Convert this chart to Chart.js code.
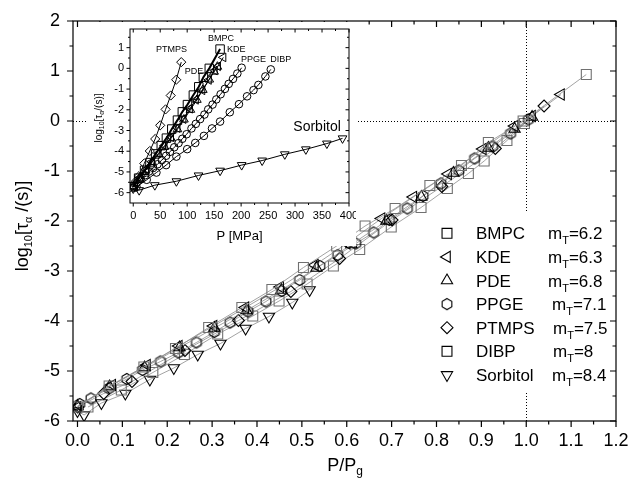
<!DOCTYPE html>
<html>
<head>
<meta charset="utf-8">
<script src="https://cdn.jsdelivr.net/npm/chart.js@4/dist/chart.umd.min.js"></script>
<style>
  html, body { margin: 0; padding: 0; background: #fff; }
  #wrap { position: relative; width: 630px; height: 484px; }
  #main { position: absolute; left: 0; top: 0; }
  #inset { position: absolute; left: 88px; top: 22px; background: #fff; }
</style>
</head>
<body>
<div id="wrap">
  <canvas id="main" width="630" height="484"></canvas>
  <canvas id="inset" width="268" height="224"></canvas>
</div>
<script>
// ---- data -------------------------------------------------------------
const seriesNames    = ['BMPC', 'KDE', 'PDE', 'PPGE', 'PTMPS', 'DIBP', 'Sorbitol'];
const fragilityIndex = ['6.2', '6.3', '6.8', '7.1', '7.5', '8', '8.4'];
// pressure (MPa) at which log10(tau) reaches 0 for each liquid
const glassPressure  = [142, 155, 154, 200, 85.6, 256, 750];

const pressureBMPC = [0, 10, 21, 31, 41.5, 52, 61.5, 71.5, 82, 91, 100.5, 111.5, 121.5, 130, 141, 161];
const logTauBMPC   = [-5.72, -5.3, -4.92, -4.55, -4.13, -3.73, -3.37, -2.93, -2.5, -2.1, -1.75, -1.29, -0.89, -0.43, 0.0, 0.93];

const pressureKDE = [0, 12, 24, 35, 47, 58, 70, 82, 93, 105, 116, 128, 140, 151, 157, 167];
const logTauKDE   = [-5.72, -5.28, -4.88, -4.5, -4.1, -3.73, -3.32, -2.88, -2.45, -1.95, -1.52, -1.06, -0.56, -0.1, 0.1, 0.53];

const pressurePDE = [0, 11, 23, 35, 47, 58, 70, 82, 94, 106, 118, 129, 141, 150, 156];
const logTauPDE   = [-5.7, -5.31, -4.93, -4.53, -4.14, -3.79, -3.38, -2.94, -2.47, -2.0, -1.52, -1.04, -0.54, -0.16, 0.08];

const pressurePPGE = [1, 6, 14, 22, 29, 37, 45, 53, 61, 68, 76, 84, 91, 99, 108, 116, 124, 132, 139, 147, 154, 162, 170, 177, 185, 193, 201];
const logTauPPGE   = [-5.66, -5.55, -5.35, -5.16, -4.98, -4.81, -4.63, -4.43, -4.22, -4.03, -3.81, -3.61, -3.4, -3.18, -2.9, -2.68, -2.45, -2.23, -1.98, -1.75, -1.5, -1.25, -0.99, -0.75, -0.51, -0.25, 0.03];

const pressurePTMPS = [0, 5, 10.4, 20.5, 30.7, 40.7, 50, 60, 69.5, 79.7, 89];
const logTauPTMPS   = [-5.72, -5.45, -5.21, -4.59, -3.99, -3.41, -2.75, -1.98, -1.31, -0.55, 0.3];

const pressureDIBP = [6, 25, 43, 61, 80, 100, 115, 131, 146, 161, 179, 196, 211, 223, 232, 245, 255];
const logTauDIBP   = [-5.72, -5.38, -5.03, -4.67, -4.26, -3.9, -3.6, -3.26, -2.9, -2.57, -2.12, -1.73, -1.35, -1.05, -0.8, -0.39, -0.05];

const pressureSorbitol = [0, 11, 40, 80, 121, 161, 201, 239, 281, 320, 359, 388];
const logTauSorbitol   = [-5.8, -5.88, -5.64, -5.45, -5.17, -4.94, -4.67, -4.45, -4.15, -3.91, -3.63, -3.38];

const mainXTicks  = [0.0, 0.1, 0.2, 0.3, 0.4, 0.5, 0.6, 0.7, 0.8, 0.9, 1.0, 1.1, 1.2];
const mainYTicks  = [-6, -5, -4, -3, -2, -1, 0, 1, 2];
const insetXTicks = [0, 50, 100, 150, 200, 250, 300, 350, 400];
const insetYTicks = [-6, -5, -4, -3, -2, -1, 0, 1];

const pressures = [pressureBMPC, pressureKDE, pressurePDE, pressurePPGE, pressurePTMPS, pressureDIBP, pressureSorbitol];
const logTaus   = [logTauBMPC, logTauKDE, logTauPDE, logTauPPGE, logTauPTMPS, logTauDIBP, logTauSorbitol];

// ---- styling ----------------------------------------------------------
const FONT = '"Liberation Sans", Arial, Helvetica, sans-serif';

function hexagonImage(r, color, lw) {
  const c = document.createElement('canvas');
  const s = Math.ceil(2 * r + 2 * lw + 2);
  c.width = s; c.height = s;
  const g = c.getContext('2d');
  g.strokeStyle = color; g.lineWidth = lw;
  g.beginPath();
  for (let i = 0; i < 6; i++) {
    const a = -Math.PI / 2 + i * Math.PI / 3;
    const px = s / 2 + r * Math.cos(a), py = s / 2 + r * Math.sin(a);
    if (i === 0) g.moveTo(px, py); else g.lineTo(px, py);
  }
  g.closePath(); g.stroke();
  return c;
}
const hexMark = hexagonImage(5.6, '#000', 1.1);

const mainMarks = [
  { style: 'rect',     rot: 0,   r: 7,   color: '#707070' },
  { style: 'triangle', rot: -90, r: 6.5, color: '#000' },
  { style: 'triangle', rot: 0,   r: 6.5, color: '#000' },
  { style: hexMark,    rot: 0,   r: 5.6, color: '#000' },
  { style: 'rectRot',  rot: 0,   r: 6,   color: '#000' },
  { style: 'rect',     rot: 0,   r: 7,   color: '#707070' },
  { style: 'triangle', rot: 180, r: 6.5, color: '#000' }
];
const insetMarks = [
  { style: 'rect',     rot: 0,   r: 6,   lw: 2 },
  { style: 'triangle', rot: -90, r: 5,   lw: 1 },
  { style: 'triangle', rot: 0,   r: 5,   lw: 1 },
  { style: 'circle',   rot: 0,   r: 3.8, lw: 1 },
  { style: 'rectRot',  rot: 0,   r: 4.6, lw: 1 },
  { style: 'circle',   rot: 0,   r: 3.8, lw: 1 },
  { style: 'triangle', rot: 180, r: 5,   lw: 1 }
];

// text with sub-/superscript runs: [text, size, baselineShift]
function richText(ctx, parts, x, y, align) {
  let w = 0;
  parts.forEach(p => { ctx.font = p[1] + 'px ' + FONT; w += ctx.measureText(p[0]).width; });
  let cx = align === 'center' ? x - w / 2 : x;
  ctx.textAlign = 'left'; ctx.textBaseline = 'alphabetic'; ctx.fillStyle = '#000';
  parts.forEach(p => {
    ctx.font = p[1] + 'px ' + FONT;
    ctx.fillText(p[0], cx, y + (p[2] || 0));
    cx += ctx.measureText(p[0]).width;
  });
}

function drawFrameTicks(chart, major, minor, lw) {
  const { ctx, chartArea: a, scales: { x, y } } = chart;
  ctx.save();
  ctx.strokeStyle = '#000'; ctx.lineWidth = lw;
  ctx.strokeRect(a.left, a.top, a.right - a.left, a.bottom - a.top);
  const mids = (arr, lo, hi) => {
    const step = arr[1] - arr[0];
    const m = arr.slice(1).map((v, i) => (v + arr[i]) / 2);
    if (arr[0] - step / 2 > lo) m.unshift(arr[0] - step / 2);
    if (arr[arr.length - 1] + step / 2 < hi) m.push(arr[arr.length - 1] + step / 2);
    return m;
  };
  const xs = x.ticks.map(t => t.value), ys = y.ticks.map(t => t.value);
  ctx.beginPath();
  const tx = (v, len) => {
    const p = x.getPixelForValue(v);
    ctx.moveTo(p, a.bottom); ctx.lineTo(p, a.bottom + len);
    ctx.moveTo(p, a.top); ctx.lineTo(p, a.top + len);
  };
  const ty = (v, len) => {
    const p = y.getPixelForValue(v);
    ctx.moveTo(a.left, p); ctx.lineTo(a.left - len, p);
    ctx.moveTo(a.right, p); ctx.lineTo(a.right - len, p);
  };
  xs.forEach(v => tx(v, major)); mids(xs, x.min, x.max).forEach(v => tx(v, minor));
  ys.forEach(v => ty(v, major)); mids(ys, y.min, y.max).forEach(v => ty(v, minor));
  ctx.stroke();
  ctx.restore();
}

// fixed axis boxes; tick labels may overhang the plot edges freely
const fixBox = (w, h) => s => {
  if (w !== null) s.width = w;
  if (h !== null) s.height = h;
  s.paddingLeft = 0; s.paddingRight = 0; s.paddingTop = 0; s.paddingBottom = 0;
};

// ---- main chart: log tau against reduced pressure -----------------------
const mainDatasets = seriesNames.map((name, i) => ({
  label: name,
  data: pressures[i].map((p, k) => ({ x: p / glassPressure[i], y: logTaus[i][k] })),
  showLine: true,
  borderColor: '#8c8c8c',
  borderWidth: 0.8,
  pointStyle: mainMarks[i].style,
  rotation: mainMarks[i].rot,
  pointRadius: mainMarks[i].r,
  pointBorderColor: mainMarks[i].color,
  pointBorderWidth: 1.1,
  pointBackgroundColor: 'rgba(0,0,0,0)'
}));

const legendValueX = [548, 548, 548, 552, 553, 553, 552];

const mainDecor = {
  id: 'mainDecor',
  beforeDatasetsDraw(chart) {
    const { ctx, chartArea: a, scales: { x, y } } = chart;
    const x1 = Math.round(x.getPixelForValue(1)) + 0.5;
    const y0 = Math.round(y.getPixelForValue(0)) + 0.5;
    ctx.save();
    ctx.strokeStyle = '#000'; ctx.lineWidth = 1; ctx.setLineDash([1, 2]);
    ctx.beginPath();
    ctx.moveTo(x1, a.top); ctx.lineTo(x1, a.bottom);
    ctx.moveTo(a.left, y0); ctx.lineTo(a.right, y0);
    ctx.stroke();
    ctx.restore();
  },
  afterDatasetsDraw(chart) {
    const ctx = chart.ctx;
    ctx.save();
    ctx.fillStyle = '#fff';
    ctx.fillRect(436, 211, 176, 180);
    seriesNames.forEach((name, i) => {
      const cy = 233.3 + i * 23.6;
      const m = mainMarks[i];
      ctx.strokeStyle = '#000'; ctx.fillStyle = 'rgba(0,0,0,0)'; ctx.lineWidth = 1.1;
      Chart.helpers.drawPoint(ctx, { pointStyle: m.style, rotation: m.rot, radius: m.r, borderWidth: 1.1 }, 447, cy);
      richText(ctx, [[name, 17]], 476, cy + 6, 'left');
      richText(ctx, [['m', 17], ['T', 11, 5], ['=' + fragilityIndex[i], 17]], legendValueX[i], cy + 6, 'left');
    });
    ctx.restore();
  },
  afterDraw(chart) {
    drawFrameTicks(chart, 6, 3.5, 1.2);
    const ctx = chart.ctx;
    ctx.save();
    ctx.translate(22, 226);
    ctx.rotate(-Math.PI / 2);
    richText(ctx, [['log', 18], ['10', 11, 4], ['[\u03C4', 18], ['\u03B1', 11, 4], [' /(s)]', 18]], 0, 6, 'center');
    ctx.restore();
    ctx.save();
    richText(ctx, [['P/P', 18], ['g', 12, 4]], 345, 471, 'center');
    ctx.restore();
  }
};

new Chart(document.getElementById('main'), {
  type: 'scatter',
  data: { datasets: mainDatasets },
  options: {
    responsive: false,
    animation: false,
    devicePixelRatio: 1,
    layout: { padding: { top: 21, right: 14, left: 0, bottom: 0 } },
    plugins: { legend: { display: false }, tooltip: { enabled: false } },
    scales: {
      x: {
        type: 'linear', min: -0.01, max: 1.2,
        afterBuildTicks: s => { s.ticks = mainXTicks.map(v => ({ value: v })); },
        afterFit: fixBox(null, 63),
        ticks: { callback: v => v.toFixed(1), font: { size: 18, family: FONT }, color: '#000', padding: 9, maxRotation: 0, autoSkip: false },
        grid: { display: false, drawTicks: false },
        border: { display: false }
      },
      y: {
        type: 'linear', min: -6, max: 2,
        afterBuildTicks: s => { s.ticks = mainYTicks.map(v => ({ value: v })); },
        afterFit: fixBox(73, null),
        ticks: { callback: v => String(v), font: { size: 18, family: FONT }, color: '#000', padding: 13, autoSkip: false },
        grid: { display: false, drawTicks: false },
        border: { display: false }
      }
    }
  },
  plugins: [mainDecor]
});

// ---- inset: log tau against pressure ------------------------------------
const insetDatasets = seriesNames.map((name, i) => ({
  label: name,
  data: pressures[i].map((p, k) => ({ x: p, y: logTaus[i][k] })),
  showLine: true,
  borderColor: '#000',
  borderWidth: insetMarks[i].lw,
  pointStyle: insetMarks[i].style,
  rotation: insetMarks[i].rot,
  pointRadius: insetMarks[i].r,
  pointBorderColor: '#000',
  pointBorderWidth: 1,
  pointBackgroundColor: 'rgba(0,0,0,0)'
}));

// series labels placed in data units of the inset axes
const insetLabels = [
  { text: 'PTMPS',    p: 71,    v: 0.95,  size: 9,  align: 'center' },
  { text: 'BMPC',     p: 162.6, v: 1.5,   size: 9,  align: 'center' },
  { text: 'KDE',      p: 174,   v: 0.95,  size: 9,  align: 'left' },
  { text: 'PDE',      p: 112.6, v: -0.11, size: 9,  align: 'center' },
  { text: 'PPGE',     p: 223,   v: 0.47,  size: 9,  align: 'center' },
  { text: 'DIBP',     p: 273.6, v: 0.47,  size: 9,  align: 'center' },
  { text: 'Sorbitol', p: 340.8, v: -2.76, size: 14, align: 'center' }
];

const insetDecor = {
  id: 'insetDecor',
  afterDraw(chart) {
    drawFrameTicks(chart, 3.5, 2, 1);
    const { ctx, scales: { x, y } } = chart;
    ctx.save();
    insetLabels.forEach(l => {
      richText(ctx, [[l.text, l.size]], x.getPixelForValue(l.p), y.getPixelForValue(l.v) + l.size * 0.36, l.align);
    });
    richText(ctx, [['P [MPa]', 13]], (chart.chartArea.left + chart.chartArea.right) / 2, 218, 'center');
    ctx.translate(10, 96);
    ctx.rotate(-Math.PI / 2);
    richText(ctx, [['log', 10], ['10', 7, 2.5], ['[\u03C4', 10], ['\u03B1', 7, 2.5], ['/(s)]', 10]], 0, 3.5, 'center');
    ctx.restore();
  }
};

new Chart(document.getElementById('inset'), {
  type: 'scatter',
  data: { datasets: insetDatasets },
  options: {
    responsive: false,
    animation: false,
    devicePixelRatio: 1,
    layout: { padding: { top: 4.5, right: 5.5, left: 0, bottom: 0 } },
    plugins: { legend: { display: false }, tooltip: { enabled: false } },
    scales: {
      x: {
        type: 'linear', min: -6, max: 400,
        afterBuildTicks: s => { s.ticks = insetXTicks.map(v => ({ value: v })); },
        afterFit: fixBox(null, 43),
        ticks: { callback: v => String(v), font: { size: 11, family: FONT }, color: '#000', padding: 6, maxRotation: 0, autoSkip: false },
        grid: { display: false, drawTicks: false },
        border: { display: false }
      },
      y: {
        type: 'linear', min: -6.5, max: 1.9,
        afterBuildTicks: s => { s.ticks = insetYTicks.map(v => ({ value: v })); },
        afterFit: fixBox(42, null),
        ticks: { callback: v => String(v), font: { size: 11, family: FONT }, color: '#000', padding: 6, autoSkip: false },
        grid: { display: false, drawTicks: false },
        border: { display: false }
      }
    }
  },
  plugins: [insetDecor]
});
</script>
</body>
</html>
